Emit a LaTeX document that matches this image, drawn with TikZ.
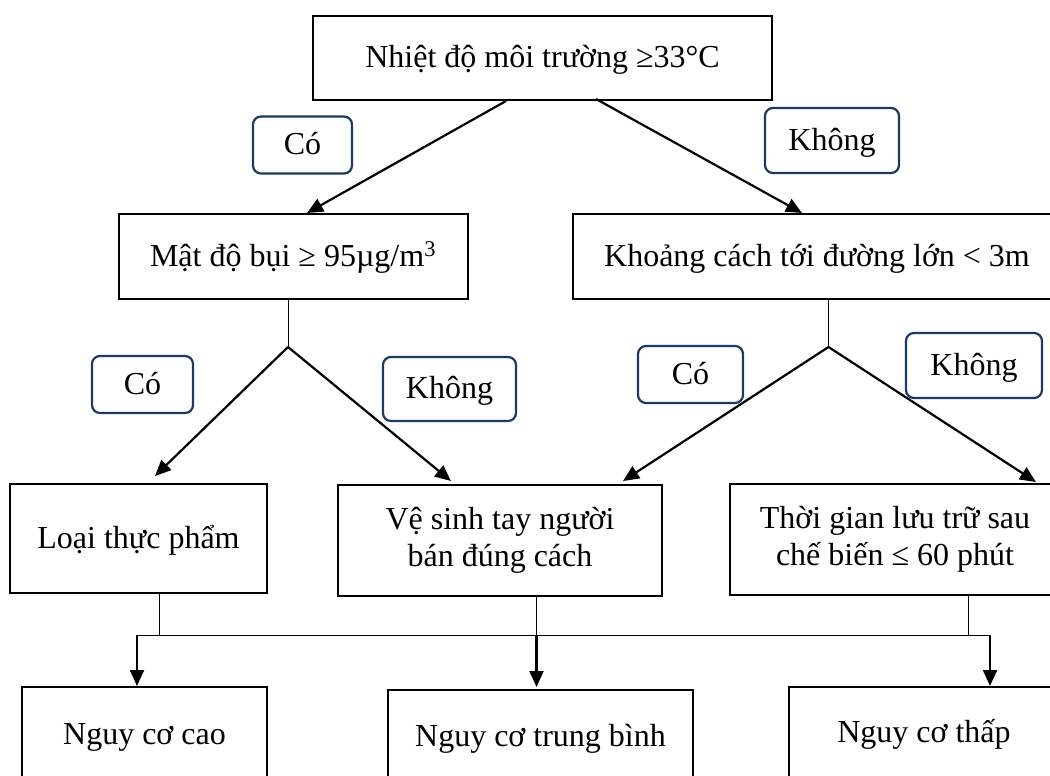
\documentclass[tikz,border=0pt]{standalone}
\usepackage{fontspec}
\setmainfont{Liberation Serif}
\usetikzlibrary{arrows.meta,calc}
\definecolor{navy}{RGB}{32,56,100}
\newcommand\dfs{\fontsize{32}{37}\selectfont}
\tikzset{
  box/.style={draw, line width=2pt, rectangle, inner sep=0pt, align=center, font=\dfs},
  oneline/.style={text height=24pt, text depth=5pt},
  lbl/.style={draw=navy, line width=2.2pt, rounded corners=8pt, rectangle, inner sep=0pt, align=center, font=\dfs, text height=24pt, text depth=5pt},
  arr/.style={line width=2.2pt, -{Triangle[length=16pt,width=14pt]}},
  thinln/.style={line width=1pt}
}
\begin{document}
\begin{tikzpicture}[x=1pt,y=-1pt]
\useasboundingbox (0,0) rectangle (1050,776);
\clip (0,0) rectangle (1050,776);
% main boxes
\node[box, oneline, minimum width=459pt, minimum height=84pt] (top) at (542.5,58) {Nhiệt độ môi trường ≥33°C};
\node[box, oneline, minimum width=349pt, minimum height=85pt] (bui) at (293,256.5) {Mật độ bụi ≥ 95µg/m\textsuperscript{3}};
\node[box, oneline, minimum width=488pt, minimum height=85pt] (kc) at (817,256.5) {Khoảng cách tới đường lớn < 3m};
\node[box, oneline, minimum width=257pt, minimum height=109pt] (loai) at (138.5,538.5) {Loại thực phẩm};
\node[box, minimum width=324pt, minimum height=111pt] (ve) at (500,540.5) {Vệ sinh tay người\\bán đúng cách};
\node[box, minimum width=330pt, minimum height=111pt] (tg) at (895,539.5) {Thời gian lưu trữ sau\\chế biến ≤ 60 phút};
\node[box, oneline, minimum width=245pt, minimum height=96pt] (cao) at (144.5,735) {Nguy cơ cao};
\node[box, oneline, minimum width=305pt, minimum height=94pt] (tb) at (540.5,737) {Nguy cơ trung bình};
\node[box, oneline, minimum width=270pt, minimum height=92pt] (thap) at (924,733) {Nguy cơ thấp};
% labels
\node[lbl, minimum width=99pt, minimum height=57pt] (co1) at (302.5,145) {Có};
\node[lbl, minimum width=134pt, minimum height=65pt] (kh1) at (832,140.5) {Không};
\node[lbl, minimum width=101pt, minimum height=57pt] (co2) at (142.5,384.5) {Có};
\node[lbl, minimum width=133pt, minimum height=64pt] (kh2) at (449.5,389) {Không};
\node[lbl, minimum width=105pt, minimum height=57pt] (co3) at (690.5,374.5) {Có};
\node[lbl, minimum width=136pt, minimum height=65pt] (kh3) at (974,365.5) {Không};
% junctions
\coordinate (j1) at (288,347);
\coordinate (j2) at (828.5,347);
\coordinate (hl) at (137,635);
\coordinate (hr) at (990,635);
\coordinate (hm) at (536.5,635);
% connectors
\draw[arr] ([xshift=-36.5pt]top.south) -- ([xshift=14pt]bui.north);
\draw[arr] ([xshift=53.5pt,yshift=2pt]top.south) -- ([xshift=-15pt]kc.north);
\draw[thinln] ([xshift=-5pt]bui.south) -- (j1);
\draw[arr] (j1) -- ([xshift=16.5pt,yshift=7pt]loai.north);
\draw[arr] (j1) -- ([xshift=-49pt,yshift=3pt]ve.north);
\draw[thinln] ([xshift=11.5pt]kc.south) -- (j2);
\draw[arr] (j2) -- ([xshift=123pt,yshift=3pt]ve.north);
\draw[arr] (j2) -- ([xshift=141pt,yshift=1pt]tg.north);
\draw[thinln] (hl) -- (hr);
\draw[thinln] ([xshift=20.5pt]loai.south) -- ([xshift=20.5pt]loai.south |- hl);
\draw[thinln] ([xshift=73pt]tg.south) -- ([xshift=73pt]tg.south |- hr);
\draw[thinln] ([xshift=36.5pt]ve.south) -- (hm);
\draw[arr] (hl) -- ([xshift=-7.5pt]cao.north);
\draw[arr] (hr) -- ([xshift=66pt]thap.north);
\draw[arr] (hm) -- ([xshift=-4pt,yshift=2pt]tb.north);
\end{tikzpicture}
\end{document}
